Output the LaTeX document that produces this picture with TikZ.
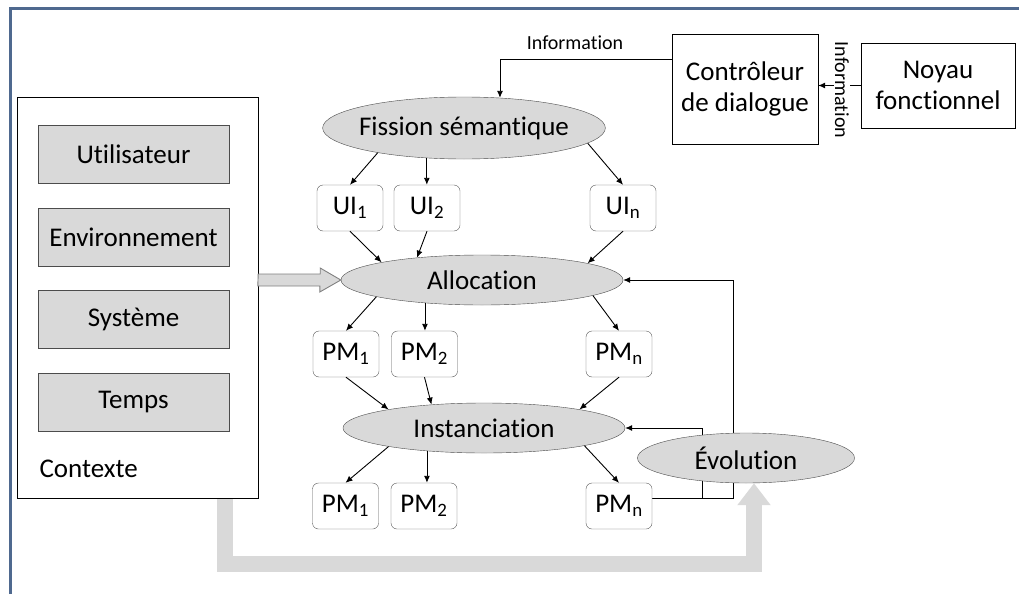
\documentclass[tikz,border=0pt]{standalone}
\usepackage{fontspec}
\setmainfont[RawFeature=-liga]{Carlito}
\usetikzlibrary{shapes.geometric,arrows.meta,backgrounds}
\definecolor{framecol}{RGB}{79,105,143}
\definecolor{lightgrey}{RGB}{217,217,217}
\begin{document}
\begin{tikzpicture}[x=1pt, y=-1pt, >={Latex[length=7pt,width=6pt]}, font=\fontsize{27}{31}\selectfont,
  ctx box/.style={rectangle,draw=black!70,fill=lightgrey,minimum width=191pt,minimum height=58pt,inner sep=0pt},
  step node/.style={ellipse,draw=black!70,fill=lightgrey,minimum width=282pt,minimum height=50pt,inner sep=0pt},
  item node/.style={rectangle,rounded corners=6pt,draw=black!65,fill=white,minimum width=66pt,minimum height=46pt,inner sep=0pt},
  plain box/.style={rectangle,draw=black,fill=white,align=center,inner sep=0pt},
  small label/.style={font=\fontsize{20}{24}\selectfont}]%
\useasboundingbox (0,0) rectangle (1019,594);
\draw[framecol,line width=3pt] (10,594) -- (10,9) -- (1019,9);
% contexte
\node[plain box,minimum width=241pt,minimum height=401pt] (ctx) at (137.5,297.5) {};
\begin{scope}[every node/.style={ctx box}]
\node (user) at (133.5,154) {Utilisateur};
\node (env) at (133.5,237) {Environnement};
\node (sys) at (133.5,319) {Système};
\node (time) at (133.5,402.5) {Temps};
\end{scope}
\node[anchor=west] (ctxlabel) at (36,469) {Contexte};
% dialogue
\node[plain box,minimum width=146pt,minimum height=110pt] (ctrl) at (745,89) {Contrôleur\\de dialogue};
\node[plain box,minimum width=154pt,minimum height=85pt] (core) at (938,85.5) {Noyau\\fonctionnel};
\node[small label] (infotop) at (575,43) {Information};
% etapes
\node[step node,minimum height=62pt,inner xsep=-5pt] (fission) at (464,128) {Fission sémantique};
\node[step node] (alloc) at (482,280) {Allocation};
\node[step node] (inst) at (484,428) {Instanciation};
\node[step node,minimum width=217pt] (evo) at (746,458) {Évolution};
\begin{scope}[every node/.style={item node}]
\node (ui1) at (350,208) {UI\textsubscript{1}};
\node (ui2) at (427,208) {UI\textsubscript{2}};
\node (uin) at (623,208) {UI\textsubscript{n}};
\node (pma1) at (346,354) {PM\textsubscript{1}};
\node (pma2) at (424.5,354) {PM\textsubscript{2}};
\node (pman) at (619,354) {PM\textsubscript{n}};
\node (pmb1) at (345.5,506) {PM\textsubscript{1}};
\node (pmb2) at (424,506) {PM\textsubscript{2}};
\node (pmbn) at (619,506) {PM\textsubscript{n}};
\end{scope}
\coordinate (low) at (225,564);
\coordinate (fbA) at (733,498);
\coordinate (fbB) at (702,498);
\begin{scope}[every edge/.style={draw=black,line width=0.9pt,->}]
\draw (fission.196) edge (ui1.north);
\draw (fission.219) edge (fission.219 |- ui2.north);
\draw (fission.353) edge (uin.north);
\draw (ui1.south) edge (alloc.170);
\draw (ui2.south) edge (alloc.161);
\draw (uin.south) edge (alloc.9);
\draw (alloc.189) edge (pma1.north);
\draw (alloc.202) edge (alloc.202 |- pma2.north);
\draw (alloc.352) edge (pman.north);
\draw (pma1.south) edge (inst.169);
\draw (pma2.south) edge (inst.156);
\draw (pman.south) edge (inst.11);
\draw (inst.191) edge (pmb1.north);
\draw (inst.202) edge (inst.202 |- pmb2.north);
\draw (inst.350) edge (pmbn.north);
\end{scope}
\draw[line width=0.9pt,->] (ctrl.north west) ++(0,26) -| (fission.40);
\draw[line width=0.9pt,->] (core.west) -- (core.west -| ctrl.east);
\node[small label,rotate=-90,fill=white,inner sep=1pt] (infoside) at (842,90) {Information};
\draw[draw=black!50,fill=lightgrey,line width=0.9pt] (ctx.east |- alloc.west) ++(0,-6) -- ++(62,0) -- ++(0,-6)
  -- (alloc.west) -- ++(-21,12) -- ++(0,-6) -- ++(-62,0) -- cycle;
\begin{pgfonlayer}{background}
\draw[line width=0.9pt,->] ([yshift=8pt]pmbn.east) -- (fbA) |- (alloc.east);
\draw[line width=0.9pt,->] (fbB) |- (inst.east);
\draw[lightgrey,line width=16pt,-{Triangle[width=32pt,length=22pt]}] (ctx.south -| low) -- (low) -| ([xshift=8pt]evo.south);
\end{pgfonlayer}
\end{tikzpicture}
\end{document}
